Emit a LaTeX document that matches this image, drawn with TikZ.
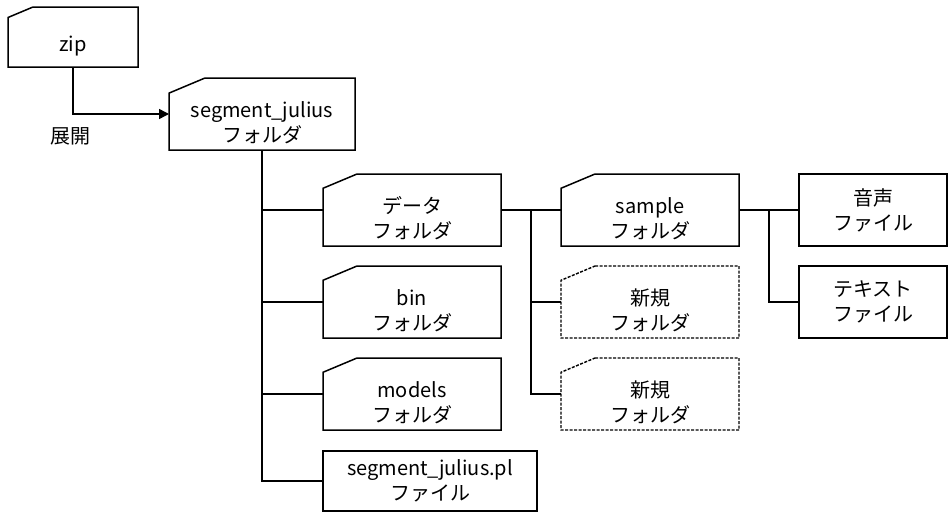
\documentclass[tikz,border=0pt]{standalone}
\usepackage{fontspec}
\setmainfont{Noto Sans CJK JP}
\usetikzlibrary{calc,arrows.meta,positioning}

% folder outline: box with a cut top-left corner
\newcommand\fold[3][]{\draw[#1] ([xshift=#3]#2.north west) -- (#2.north east) -- (#2.south east)
  -- (#2.south west) -- ([yshift=-#3*0.42]#2.north west) -- cycle;}
% pushes folder text a little below the middle
\newcommand\dirtop{\rule{0pt}{33pt}}

\begin{document}
\begin{tikzpicture}[x=1pt,y=-1pt,line width=1.5pt,font=\fontsize{20}{25}\selectfont,
    box/.style={minimum width=178pt,minimum height=72pt,inner sep=0pt,outer sep=0pt,align=center},
    file/.style={box,draw},
    newdir/.style={line width=1.4pt,dash pattern=on 3pt off 1.5pt},
    >={Triangle[length=10pt,width=10pt]}]
    \useasboundingbox (0,0) rectangle (949,512);
    \node[box,minimum width=130pt,minimum height=60pt] (zip) at (73,37) {\dirtop zip};
    \node[box,minimum width=186pt] (sj) at (262,114) {\dirtop segment\_julius\\フォルダ};
    \node (open) at (70,136) {展開};

    \node[box] (data) at (412,210) {\dirtop データ\\フォルダ};
    \node[box] (bin) at (412,302) {\dirtop bin\\フォルダ};
    \node[box] (models) at (412,394) {\dirtop models\\フォルダ};
    \node[file,minimum width=214pt,minimum height=60pt] (pl) at (430,481) {segment\_julius.pl\\ファイル};

    \node[box] (sample) at (650,210) {\dirtop sample\\フォルダ};
    \node[box] (new1) at (650,302) {\dirtop 新規\\フォルダ};
    \node[box] (new2) at (650,394) {\dirtop 新規\\フォルダ};

    \node[file,minimum width=148pt] (voice) at (873,210) {音声\\ファイル};
    \node[file,minimum width=148pt] (text) at (873,302) {テキスト\\ファイル};

    \fold{zip}{25}
    \fold{sj}{36}
    \foreach \n in {data,bin,models,sample} {\fold{\n}{34}}
    \fold[newdir]{new1}{34}
    \fold[newdir]{new2}{34}

    \draw[->] (zip.south) |- (sj.west);
    \draw (sj.south) |- (pl.west);
    \foreach \n in {data,bin,models} \draw (sj.south |- \n.west) -- (\n.west);

    \coordinate (j1) at ($(data.east)!.5!(sample.west)$);
    \draw (data.east) -- (sample.west);
    \draw (j1) |- (new2.west);
    \draw (j1 |- new1.west) -- (new1.west);

    \coordinate (j2) at ($(sample.east)!.5!(voice.west)$);
    \draw (sample.east) -- (voice.west);
    \draw (j2) |- (text.west);
\end{tikzpicture}
\end{document}
